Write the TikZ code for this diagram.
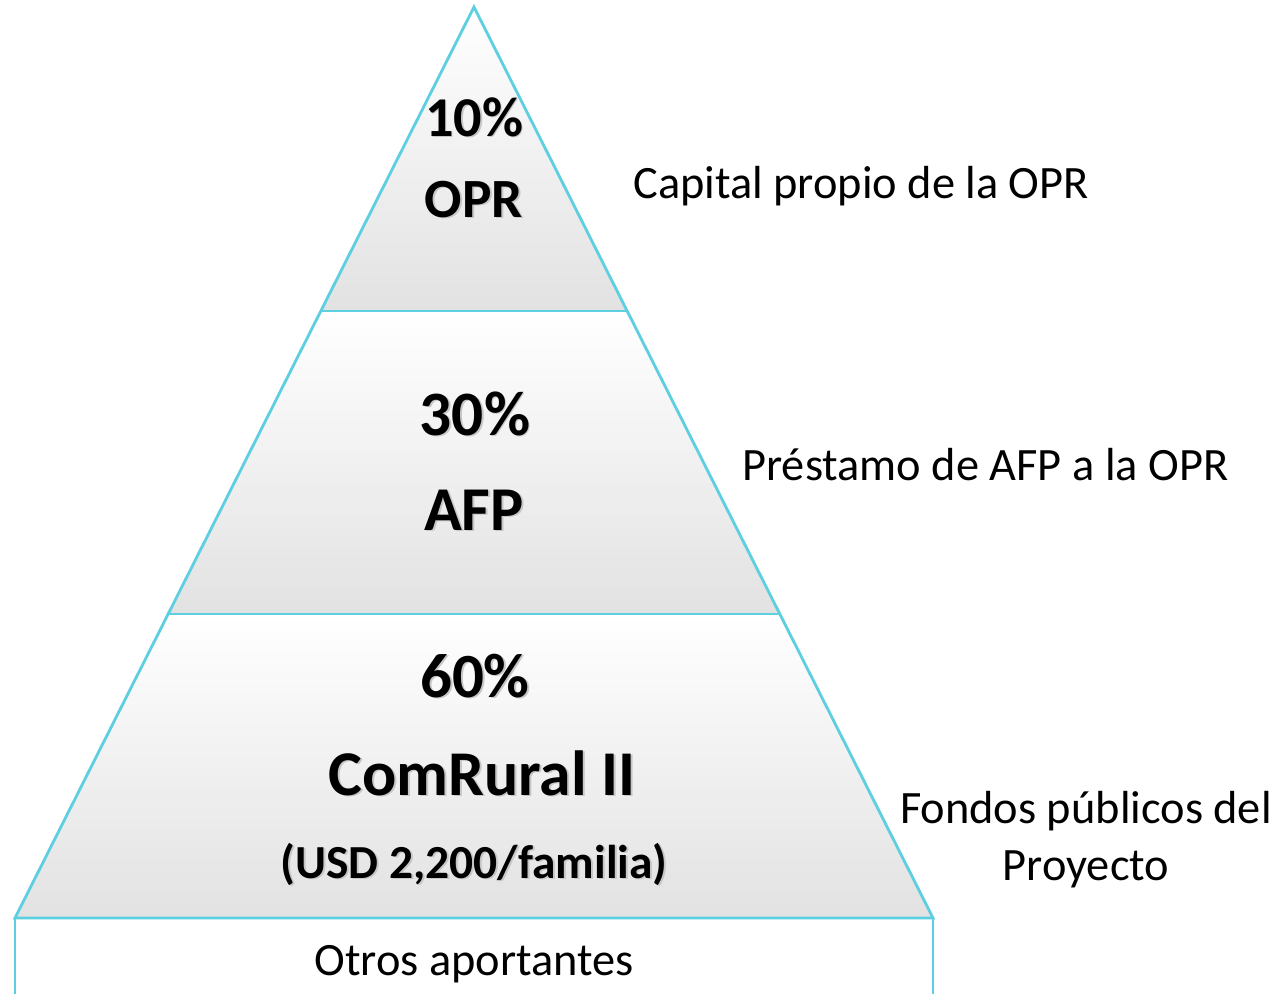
\documentclass[tikz,border=0pt]{standalone}
\usepackage{fontspec}
\setmainfont{Carlito}
\definecolor{edgecol}{HTML}{5DCFE0}
\definecolor{shadebot}{HTML}{E2E2E2}
\newcommand\shd[1]{\makebox[0pt][l]{\hspace{1.1pt}\raisebox{-1.1pt}{\color{black!22}#1}}#1}
\begin{document}
\begin{tikzpicture}[x=0.02cm,y=-0.02cm,
  edge/.style={draw=edgecol,line width=1.6pt,line join=miter},
  level/.style={top color=white,bottom color=shadebot},
  big/.style={anchor=base,font=\bfseries\fontsize{32}{38}\selectfont,inner sep=0pt},
  side/.style={anchor=base,font=\fontsize{26.4}{31}\selectfont,inner sep=0pt}]
\useasboundingbox (0,0) rectangle (1279,994);
\fill[white] (0,0) rectangle (1279,994);
% levels
\shade[level] (474,7) -- (320.8,311) -- (627.2,311) -- cycle;
\shade[level] (320.8,311) -- (168.2,614) -- (779.8,614) -- (627.2,311) -- cycle;
\shade[level] (168.2,614) -- (15,918) -- (933,918) -- (779.8,614) -- cycle;
\draw[edge] (474,7) -- (15,918) -- (933,918) -- cycle;
\draw[edge] (320.8,311) -- (627.2,311);
\draw[edge] (168.2,614) -- (779.8,614);
\draw[edge] (15,918) -- (15,996);
\draw[edge] (933,918) -- (933,996);
% texts
\node[big] (p10) at (474,136) {\shd{10\%}};
\node[big,font=\bfseries\fontsize{31.5}{38}\selectfont] (opr) at (474,217) {\shd{OPR}};
\node[big,font=\bfseries\fontsize{36}{40}\selectfont] (p30) at (475,435) {\shd{30\%}};
\node[big,font=\bfseries\fontsize{35.5}{40}\selectfont] (afp) at (474,530) {\shd{AFP}};
\node[big,font=\bfseries\fontsize{35.8}{40}\selectfont] (p60) at (475,697) {\shd{60\%}};
\node[big,font=\bfseries\fontsize{36.3}{44}\selectfont] (com) at (482,795) {\shd{ComRural II}};
\node[big,font=\bfseries\fontsize{27}{32}\selectfont] (usd) at (474,878) {\shd{(USD 2,200/familia)}};
\node[side,anchor=base west] (cap) at (633,198) {Capital propio de la OPR};
\node[side,anchor=base west] (pre) at (742,480) {Préstamo de AFP a la OPR};
\node[side] (fon) at (1086,823) {Fondos públicos del};
\node[side] (pro) at (1086,880) {Proyecto};
\node[side] (otr) at (474,975) {Otros aportantes};
\end{tikzpicture}
\end{document}
